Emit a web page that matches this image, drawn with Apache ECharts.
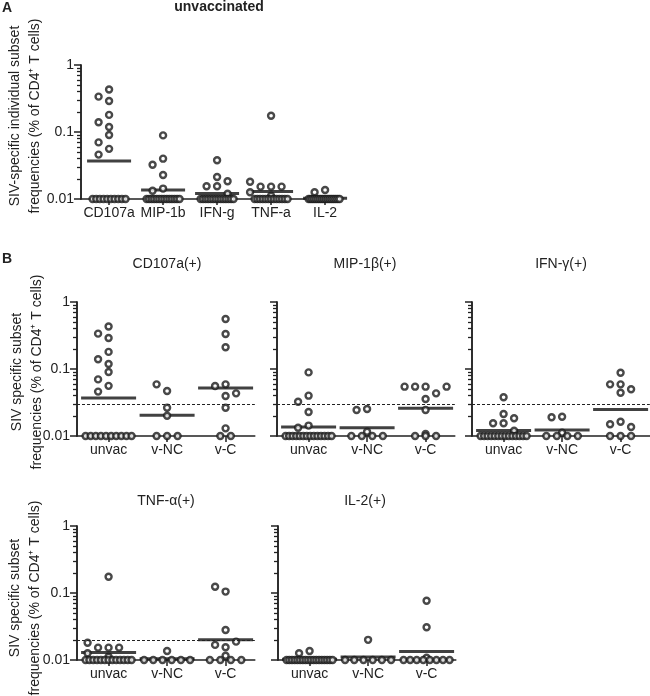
<!DOCTYPE html>
<html>
<head>
<meta charset="utf-8">
<script src="https://cdn.jsdelivr.net/npm/echarts@6/dist/echarts.min.js"></script>
<style>
  html, body { margin: 0; background: #fff; }
  #chart { width: 650px; height: 696px; }
</style>
</head>
<body>
<div id="chart"></div>
<script>
// categories
const groups = ['unvac', 'v-NC', 'v-C'];
const cytokinesA = ['CD107a', 'MIP-1b', 'IFN-g', 'TNF-a', 'IL-2'];
const panelTitles = ['CD107a(+)', 'MIP-1β(+)', 'IFN-γ(+)', 'TNF-α(+)', 'IL-2(+)'];

// % of CD4+ T cells, 0.01 = plotted at detection floor
const unvacCD107a = [0.43, 0.337, 0.29, 0.18, 0.14, 0.119, 0.090, 0.070, 0.056, 0.046,
  0.01, 0.01, 0.01, 0.01, 0.01, 0.01, 0.01, 0.01, 0.01, 0.01];
const unvacMIP = [0.089, 0.040, 0.0325, 0.0228, 0.0143, 0.0133,
  0.01, 0.01, 0.01, 0.01, 0.01, 0.01, 0.01, 0.01, 0.01, 0.01, 0.01, 0.01, 0.01, 0.01];
const unvacIFN = [0.0379, 0.0155, 0.0155, 0.0184, 0.0213, 0.012,
  0.01, 0.01, 0.01, 0.01, 0.01, 0.01, 0.01, 0.01, 0.01, 0.01, 0.01, 0.01, 0.01, 0.01];
const unvacTNF = [0.175, 0.0153, 0.0153, 0.0153, 0.0181, 0.0126, 0.0112,
  0.01, 0.01, 0.01, 0.01, 0.01, 0.01, 0.01, 0.01, 0.01, 0.01, 0.01, 0.01, 0.01];
const unvacIL2 = [0.0136, 0.0126,
  0.01, 0.01, 0.01, 0.01, 0.01, 0.01, 0.01, 0.01, 0.01, 0.01, 0.01, 0.01, 0.01, 0.01, 0.01, 0.01, 0.01, 0.01];

const vncCD107a = [0.047, 0.059, 0.0264, 0.0201, 0.01, 0.01, 0.01];
const vncMIP = [0.0253, 0.0244, 0.0116, 0.01, 0.01, 0.01, 0.01];
const vncIFN = [0.0194, 0.0190, 0.0112, 0.01, 0.01, 0.01, 0.01];
const vncTNF = [0.0136, 0.01, 0.01, 0.01, 0.01, 0.01, 0.01];
const vncIL2 = [0.020, 0.01, 0.01, 0.01, 0.01, 0.01, 0.01];

const vcCD107a = [0.557, 0.333, 0.211, 0.059, 0.0557, 0.0395, 0.0433, 0.0264, 0.013, 0.01, 0.01];
const vcMIP = [0.0545, 0.0545, 0.0433, 0.0356, 0.0244, 0.0545, 0.0545, 0.0107, 0.01, 0.01, 0.01];
const vcIFN = [0.088, 0.059, 0.059, 0.0498, 0.0443, 0.0163, 0.0150, 0.0136, 0.01, 0.01, 0.01];
const vcTNF = [0.105, 0.124, 0.028, 0.0155, 0.0168, 0.0188, 0.0116, 0.01, 0.01, 0.01, 0.01];
const vcIL2 = [0.0768, 0.0308, 0.0108, 0.01, 0.01, 0.01, 0.01, 0.01, 0.01, 0.01, 0.01];

// dashed cut-off lines per cytokine (none for IL-2)
const cutoffs = [0.0308, 0.0344, 0.029, 0.0168, null];

const FONT = '"Liberation Sans", Arial, Helvetica, sans-serif';
const INK = '#222';
const FLOOR = 0.01;
const PLOT_H = 134;
const PX_PER_DECADE = PLOT_H / 2;

// minor ticks 2..9 of each decade, placed on a linear axis in log10 units
const minorLogTicks = [];
[-2, -1].forEach(e => { for (let k = 2; k <= 9; k++) minorLogTicks.push(e + Math.log10(k)); });

const geoMean = arr => Math.pow(10, arr.reduce((s, v) => s + Math.log10(v), 0) / arr.length);

// simple beeswarm: floor values in one packed row, others pushed sideways on overlap
function swarm(values, step, rowW) {
  const out = new Array(values.length);
  const bottom = [];
  values.forEach((v, i) => { if (v <= FLOOR) bottom.push(i); });
  const gap = bottom.length > 1 ? Math.min(step, rowW / (bottom.length - 1)) : 0;
  bottom.forEach((idx, j) => { out[idx] = (j - (bottom.length - 1) / 2) * gap; });
  const placed = [];
  values.forEach((v, i) => {
    if (v <= FLOOR) return;
    const y = Math.log10(v) * PX_PER_DECADE;
    for (let k = 0; k < 20; k++) {
      const slot = k === 0 ? 0 : (k % 2 ? -Math.ceil(k / 2) : k / 2);
      const x = slot * step;
      if (!placed.some(p => Math.abs(p.x - x) < 9 && Math.abs(p.y - y) < 7.5)) {
        placed.push({ x, y });
        out[i] = x;
        break;
      }
    }
  });
  return out;
}

const panels = [
  { left: 81, top: 65, unit: 54, xMin: 0.48, xMax: 5.3, cats: cytokinesA,
    sets: [unvacCD107a, unvacMIP, unvacIFN, unvacTNF, unvacIL2],
    cutoff: null, yLabels: true, meanW: 44, rowW: 33 },
  { left: 77, top: 302, cutoff: cutoffs[0], yLabels: true, sets: [unvacCD107a, vncCD107a, vcCD107a] },
  { left: 277, top: 302, cutoff: cutoffs[1], yLabels: false, sets: [unvacMIP, vncMIP, vcMIP] },
  { left: 472, top: 302, cutoff: cutoffs[2], yLabels: false, sets: [unvacIFN, vncIFN, vcIFN] },
  { left: 77, top: 526, cutoff: cutoffs[3], yLabels: true, sets: [unvacTNF, vncTNF, vcTNF] },
  { left: 278, top: 526, cutoff: cutoffs[4], yLabels: false, sets: [unvacIL2, vncIL2, vcIL2] }
].map(p => Object.assign({ unit: 58.5, xMin: 0.46, xMax: 3.5, cats: groups, meanW: 55, rowW: 46 }, p));

const grid = [], xAxis = [], yAxis = [], series = [];

panels.forEach((p, i) => {
  grid.push({ left: p.left, top: p.top, width: (p.xMax - p.xMin) * p.unit, height: PLOT_H,
    outerBoundsMode: 'none' });
  const catIdx = p.cats.map((c, k) => k + 1);
  xAxis.push({
    type: 'value', gridIndex: i, min: p.xMin, max: p.xMax,
    splitLine: { show: false },
    axisLine: { onZero: false, lineStyle: { color: INK, width: 1.5 } },
    axisTick: { show: true, customValues: catIdx, length: 6, lineStyle: { color: INK, width: 1.5 } },
    axisLabel: { customValues: catIdx, formatter: v => p.cats[Math.round(v) - 1],
      margin: 7, fontSize: 14, color: INK, fontFamily: FONT }
  });
  yAxis.push({
    type: 'log', logBase: 10, gridIndex: i, min: 0.01, max: 1, position: 'left',
    splitLine: { show: false },
    axisLine: { show: true, lineStyle: { color: INK, width: 1.5 } },
    axisTick: { show: true, length: 7, lineStyle: { color: INK, width: 1.5 } },
    axisLabel: { show: p.yLabels, margin: 7, fontSize: 14, color: INK, fontFamily: FONT }
  });
  yAxis.push({
    type: 'value', gridIndex: i, min: -2, max: 0, position: 'left',
    splitLine: { show: false },
    axisLine: { show: true, lineStyle: { color: INK, width: 1.5 } },
    axisTick: { show: true, customValues: minorLogTicks, length: 4, lineStyle: { color: INK, width: 1.3 } },
    axisLabel: { show: false }
  });

  const dots = [], means = [];
  p.sets.forEach((vals, g) => {
    const off = swarm(vals, 10.5, p.rowW);
    vals.forEach((v, k) => dots.push([g + 1 + off[k] / p.unit, v]));
    means.push([g + 1, geoMean(vals)]);
  });

  series.push({
    type: 'scatter', xAxisIndex: i, yAxisIndex: 2 * i, z: 2, silent: true,
    symbol: 'rect', symbolSize: [p.meanW, 3],
    itemStyle: { color: '#111' },
    data: means,
    markLine: p.cutoff == null ? undefined : {
      silent: true, symbol: 'none', label: { show: false },
      lineStyle: { color: INK, width: 1, type: [3, 2] },
      data: [{ yAxis: p.cutoff }]
    }
  });
  series.push({
    type: 'scatter', xAxisIndex: i, yAxisIndex: 2 * i, z: 3, silent: true,
    symbol: 'circle', symbolSize: 6,
    itemStyle: { color: '#fff', borderColor: '#1a1a1a', borderWidth: 2.4 },
    data: dots
  });
});

const txt = (x, y, text, opts) => ({
  type: 'text', x, y, silent: true,
  rotation: opts && opts.rot ? Math.PI / 2 : 0,
  style: { text, fill: INK, align: 'center', verticalAlign: 'middle',
    font: ((opts && opts.bold) ? 'bold ' : '') + ((opts && opts.size) || 14) + 'px ' + FONT }
});

const graphic = [
  txt(7, 8, 'A', { bold: true, size: 14 }),
  txt(219, 7, 'unvaccinated', { bold: true }),
  txt(7, 259, 'B', { bold: true, size: 14 }),
  txt(167, 264, panelTitles[0]),
  txt(365, 264, panelTitles[1]),
  txt(561, 264, panelTitles[2]),
  txt(166, 501, panelTitles[3]),
  txt(365, 501, panelTitles[4]),
  txt(15, 116, 'SIV-specific individual subset', { rot: true }),
  txt(35, 116, 'frequencies (% of CD4⁺ T cells)', { rot: true }),
  txt(17, 372, 'SIV specific subset', { rot: true }),
  txt(37, 372, 'frequencies (% of CD4⁺ T cells)', { rot: true }),
  txt(15, 598, 'SIV specific subset', { rot: true }),
  txt(35, 598, 'frequencies (% of CD4⁺ T cells)', { rot: true })
];

const chart = echarts.init(document.getElementById('chart'), null, { renderer: 'canvas' });
chart.setOption({
  animation: false,
  backgroundColor: '#fff',
  grid, xAxis, yAxis, series, graphic
});
window.addEventListener('resize', () => chart.resize());
</script>
</body>
</html>
